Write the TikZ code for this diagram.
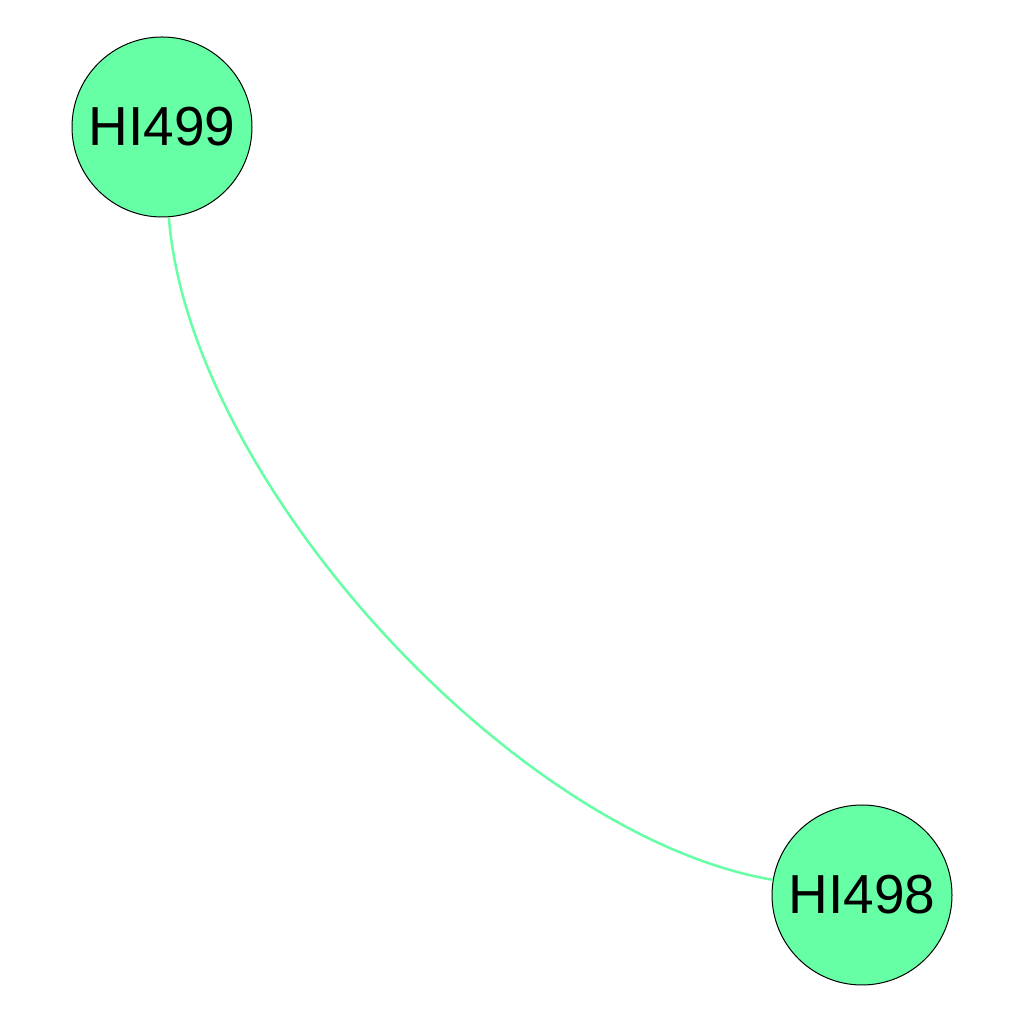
\documentclass[tikz,border=0pt]{standalone}
\usepackage{fontspec}
\setmainfont{Liberation Sans}
\begin{document}
\begin{tikzpicture}[x=1pt,y=1pt,
  vnode/.style={circle,draw=black,line width=1pt,fill=nodegreen,minimum size=180pt,inner sep=0pt,font=\fontsize{55}{60}\selectfont},
  edge/.style={draw=nodegreen,line width=2.5pt}]
\definecolor{nodegreen}{HTML}{66FFA6}
\useasboundingbox (0,0) rectangle (1024,1024);
\node[vnode] (a) at (162,897) {HI499};
\node[vnode] (b) at (862,129) {HI498};
\draw[edge] (a) to[bend right=38,looseness=0.75] (b);
\end{tikzpicture}
\end{document}
